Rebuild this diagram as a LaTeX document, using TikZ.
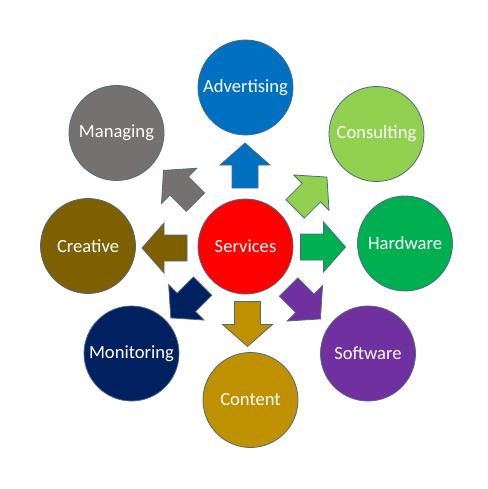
\documentclass[tikz,border=0pt]{standalone}
\usepackage{fontspec}
\setmainfont{Carlito}
\definecolor{cAdv}{HTML}{0070C0}
\definecolor{cCon}{HTML}{92D050}
\definecolor{cHw}{HTML}{00B050}
\definecolor{cSw}{HTML}{7030A0}
\definecolor{cCnt}{HTML}{BF9000}
\definecolor{cMon}{HTML}{002060}
\definecolor{cCre}{HTML}{7F6000}
\definecolor{cMan}{HTML}{767171}
\definecolor{cSrv}{HTML}{FF0000}
\definecolor{cLine}{HTML}{4E6A82}
\tikzset{
  bubble/.style={circle, minimum size=95pt, inner sep=0pt, draw=cLine, line width=0.8pt,
    text=white, font=\fontsize{18.6}{20}\selectfont},
  blockarrow/.pic={\path[pic actions] (-22.5,-13) -- (0.5,-13) -- (0.5,-25) -- (22.5,0)
    -- (0.5,25) -- (0.5,13) -- (-22.5,13) -- cycle;},
  arr/.style={draw=cLine, line width=0.8pt, fill=#1}
}
\begin{document}
\begin{tikzpicture}[x=1pt,y=-1pt]
\useasboundingbox[fill=white] (0,0) rectangle (487,489);
% circles
\node[bubble, fill=cSrv] (srv) at (245.5,246.5) {Services};
\node[bubble, fill=cAdv] (adv) at (245.5,87.5) {Advertising};
\node[bubble, fill=cCon] (con) at (376.5,134) {Consulting};
\node[bubble, fill=cHw]  (hw)  at (405,243.5) {Hardware};
\node[bubble, fill=cSw]  (sw)  at (368,353.5) {Software};
\node[bubble, fill=cCnt] (cnt) at (250.5,400) {Content};
\node[bubble, fill=cMon] (mon) at (131.5,353.5) {Monitoring};
\node[bubble, fill=cCre] (cre) at (88,246) {Creative};
\node[bubble, fill=cMan] (man) at (116.5,133) {Managing};
% block arrows
\pic[arr=cAdv, shift={(245,165.5)}, rotate=90] {blockarrow};
\pic[arr=cCnt, shift={(247.5,324)}, rotate=270] {blockarrow};
\pic[arr=cHw,  shift={(323,247)}, rotate=0] {blockarrow};
\pic[arr=cCre, shift={(164.5,248)}, rotate=180] {blockarrow};
\pic[arr=cCon, shift={(311,193)}, rotate=45] {blockarrow};
\pic[arr=cSw,  shift={(304.5,303)}, rotate=-45] {blockarrow};
\pic[arr=cMon, shift={(186.7,302)}, rotate=-135] {blockarrow};
\pic[arr=cMan, shift={(179.5,186.3)}, rotate=135] {blockarrow};
\end{tikzpicture}
\end{document}
